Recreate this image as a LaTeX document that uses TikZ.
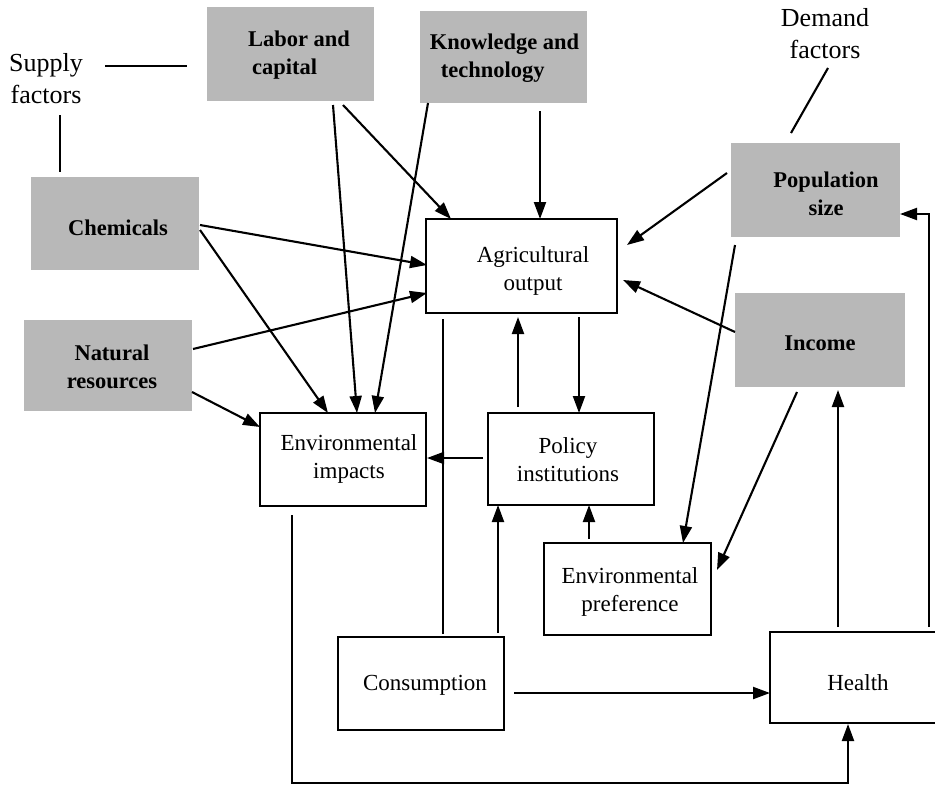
\documentclass[tikz,border=0pt]{standalone}
\usepackage{fontspec}
\setmainfont{Liberation Serif}
\usetikzlibrary{arrows.meta,calc}
\begin{document}
\begin{tikzpicture}[x=1pt,y=-1pt,
  shbox/.style={fill=black!28, draw=none, inner sep=0pt, outer sep=0pt},
  wbox/.style={draw=black, line width=2.1pt, fill=white, inner sep=0pt, outer sep=0pt},
  txt/.style={font=\fontsize{23}{28}\selectfont, align=center, inner sep=0pt},
  btxt/.style={font=\fontsize{22.5}{28}\selectfont\bfseries, align=center, inner sep=0pt},
  ltxt/.style={font=\fontsize{26}{32}\selectfont, align=center, inner sep=0pt},
  ln/.style={line width=2.1pt},
  arr/.style={line width=2.1pt, -{Triangle[length=17pt,width=12pt]}},
]
\useasboundingbox[fill=white] (0,0) rectangle (935,787);

% shaded factor boxes
\node[shbox, minimum width=167pt, minimum height=94pt] (labor) at (290.5,54) {};
\node[shbox, minimum width=167pt, minimum height=92pt] (know) at (503.5,57) {};
\node[shbox, minimum width=168pt, minimum height=93pt] (chem) at (115,223.5) {};
\node[shbox, minimum width=168pt, minimum height=91pt] (nat) at (108,365.5) {};
\node[shbox, minimum width=169pt, minimum height=94pt] (pop) at (815.5,190) {};
\node[shbox, minimum width=170pt, minimum height=94pt] (inc) at (820,340) {};

% white boxes
\node[wbox, minimum width=191pt, minimum height=94pt] (agri) at (521.5,266) {};
\node[wbox, minimum width=166pt, minimum height=93pt] (envimp) at (343,459.5) {};
\node[wbox, minimum width=166pt, minimum height=92pt] (policy) at (571,459) {};
\node[wbox, minimum width=167pt, minimum height=92pt] (envpref) at (627.5,589) {};
\node[wbox, minimum width=166pt, minimum height=93pt] (cons) at (421,683.5) {};
\node[wbox, minimum width=176pt, minimum height=91pt] (health) at (858,677.5) {};

% texts
\node[ltxt] (supply) at (46,79) {Supply\\factors};
\node[ltxt] (demand) at (825,34) {Demand\\factors};
\node[btxt, align=left] (labor-t) at (299,55) {Labor and\\\hspace*{4pt}capital};
\node[btxt, align=left] (know-t) at (504.5,58.5) {Knowledge and\\\hspace*{11pt}technology};
\node[btxt] (chem-t) at (118,228) {Chemicals};
\node[btxt] (nat-t) at (112,366.5) {Natural\\resources};
\node[btxt] (pop-t) at (826,194) {Population\\size};
\node[btxt] (inc-t) at (820,343) {Income};
\node[txt] (agri-t) at (533,271) {Agricultural\\output};
\node[txt] (envimp-t) at (349,459) {Environmental\\impacts};
\node[txt] (policy-t) at (568,459.5) {Policy\\institutions};
\node[txt] (envpref-t) at (630,591.5) {Environmental\\preference};
\node[txt] (cons-t) at (425,685) {Consumption};
\node[txt] (health-t) at (858,683) {Health};

% plain lines
\draw[ln] ($(supply)+(59,-13)$) -- ($(labor.west)+(-20,12)$);
\draw[ln] ($(supply)+(14,36)$) -- ($(chem.north west)+(29,-5)$);
\draw[ln] ($(demand)+(3,34)$) -- ($(pop.north west)+(60,-10)$);
\draw[ln] ($(cons.north west)+(105,-3)$) -- ($(agri.south west)+(17,6)$);

% arrows
\draw[arr] ($(labor.south east)+(-31,4)$) -- ($(agri.north west)+(25,0)$);
\draw[arr] ($(labor.south east)+(-41,4)$) -- ($(envimp.north west)+(97,0)$);
\draw[arr] ($(know.south west)+(8,0)$) -- ($(envimp.north west)+(115,0)$);
\draw[arr] ($(know.south west)+(120,8)$) -- ($(agri.north west)+(114,0)$);
\draw[arr] ($(chem.north east)+(1,48)$) -- ($(agri.north west)+(1,46)$);
\draw[arr] ($(chem.north east)+(1,53)$) -- ($(envimp.north west)+(68,0)$);
\draw[arr] ($(nat.north east)+(1,29)$) -- ($(agri.north west)+(1,74)$);
\draw[arr] ($(nat.north east)+(0,72)$) -- ($(envimp.north west)+(0,14)$);
\draw[arr] ($(pop.north west)+(-4,30)$) -- ($(agri.north east)+(10,26)$);
\draw[arr] ($(inc.north west)+(0,39)$) -- ($(agri.north east)+(6,61)$);
\draw[arr] ($(pop.south west)+(4,8)$) -- ($(envpref.north west)+(139,0)$);
\draw[arr] ($(inc.south west)+(62,5)$) -- ($(envpref.north east)+(6,27)$);
\draw[arr] ($(policy.north west)+(30,-6)$) -- ($(agri.south west)+(92,4)$);
\draw[arr] ($(agri.south west)+(153,4)$) -- ($(policy.north west)+(91,0)$);
\draw[arr] ($(policy.north west)+(-5,45)$) -- ($(envimp.north east)+(1,45)$);
\draw[arr] ($(envpref.north west)+(45,-4)$) -- ($(policy.south west)+(101,0)$);
\draw[arr] ($(cons.north west)+(160,-4)$) -- ($(policy.south west)+(10,0)$);
\draw[arr] ($(cons.east)+(10,9.5)$) -- ($(health.west)+(0,15.5)$);
\draw[arr] ($(health.north west)+(68,-5)$) -- ($(inc.south west)+(103,3)$);
\draw[arr] ($(health.north west)+(159,-5)$) |- ($(pop.north east)+(0,71)$);
\draw[arr] ($(envimp.south west)+(32,9)$) -- ($(envimp.south west)+(32,277)$) -| ($(health.south west)+(78,1)$);
\end{tikzpicture}
\end{document}
